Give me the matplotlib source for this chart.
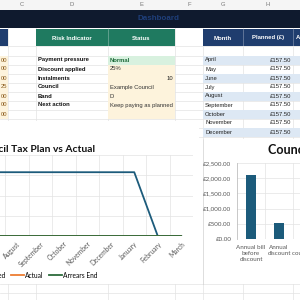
import matplotlib.pyplot as plt
from matplotlib.patches import Rectangle

# sheet data
col_letters = ["C", "D", "E", "F", "G", "H"]
col_letter_x = [22, 72, 141, 189, 223, 268]
col_b_values = ["00", "00", "00", "25", "00", "00", "00"]
risk_labels = ["Payment pressure", "Discount applied", "Instalments", "Council", "Band", "Next action"]
risk_status = ["Normal", "25%", "10", "Example Council", "D", "Keep paying as planned"]
table_months = ["April", "May", "June", "July", "August", "September", "October", "November", "December"]
table_planned = [157.50, 157.50, 157.50, 157.50, 157.50, 157.50, 157.50, 157.50, 157.50]

# line chart data
months = ["April", "May", "June", "July", "August", "September",
          "October", "November", "December", "January", "February", "March"]
planned = [157.5, 157.5, 157.5, 157.5, 157.5, 157.5, 157.5, 157.5, 157.5, 157.5, 0, 0]
actual = [0, 0, 0, 0, 0, 0, 0, 0, 0, 0, 0, 0]
arrears_end = [0, 0, 0, 0, 0, 0, 0, 0, 0, 0, 0, 0]

# bar chart data
bar_labels = ["Annual bill\nbefore\ndiscount", "Annual\ndiscount", "Net\ncouncil tax"]
bar_values = [2100, 525, 1575]

navy = "#0f1a2e"
hdr_blue = "#1f3d6e"
teal = "#1f7a60"
stripe = "#dde8f4"
cream = "#fdf3dc"
grid = "#e3e3e3"
chart_blue = "#1c5b7b"

SHEET_FONT = ["Liberation Sans", "DejaVu Sans"]
CHART_FONT = ["Lato", "DejaVu Sans"]

fig = plt.figure(figsize=(3, 3), dpi=100)
bg = fig.add_axes([0, 0, 1, 1])
bg.set_xlim(0, 300)
bg.set_ylim(300, 0)
bg.axis("off")


def rect(x0, y0, x1, y1, color, z=1):
    bg.add_patch(Rectangle((x0, y0), x1 - x0, y1 - y0, color=color, lw=0, zorder=z))


def px(x0, y0, x1, y1):
    return [x0 / 300, 1 - y1 / 300, (x1 - x0) / 300, (y1 - y0) / 300]


# sheet gridlines
col_edges = [8, 36, 108, 175, 203, 243, 293]
row_edges = [46, 55.5, 64.5, 73.5, 82.5, 91.5, 100.5, 109.5, 118.5, 127.5, 136.5, 284, 293]
for x in col_edges:
    bg.plot([x, x], [10, 300], color=grid, lw=0.5, zorder=0.5)
for y in row_edges:
    bg.plot([0, 300], [y, y], color=grid, lw=0.5, zorder=0.5)

# column letters row and title band
rect(0, 0, 300, 10, "#f5f5f5")
for lt, x in zip(col_letters, col_letter_x):
    bg.text(x, 5, lt, ha="center", va="center", fontsize=4.2, color="#777777", family=SHEET_FONT)
rect(0, 10, 300, 27.5, navy)
bg.text(158, 19, "Dashboard", ha="center", va="center", fontsize=5.8, color="#1f3f7a",
        family=SHEET_FONT, fontweight="bold")

# header row
rect(0, 29, 8, 46, hdr_blue)
rect(36, 29, 175, 46, teal)
rect(203, 29, 300, 46, hdr_blue)
for x in [108, 243, 293]:
    bg.plot([x, x], [29, 46], color="#ffffff", lw=0.4, alpha=0.5, zorder=2)
hdr_kw = dict(ha="center", va="center", fontsize=4.3, color="white", fontweight="bold", family=SHEET_FONT)
bg.text(72, 38, "Risk Indicator", **hdr_kw)
bg.text(141.5, 38, "Status", **hdr_kw)
bg.text(223, 38, "Month", **hdr_kw)
bg.text(268, 38, "Planned (£)", **hdr_kw)
bg.text(296, 38, "Actual (£)", ha="left", va="center", fontsize=4.3, color="white",
        fontweight="bold", family=SHEET_FONT, clip_on=True)

# column B values
for i, v in enumerate(col_b_values):
    y = 60 + 9 * i
    rect(0, y - 4.5, 8, y + 4.5, cream)
    bg.text(7, y, v, ha="right", va="center", fontsize=4.2, color="#8a5a1a", family=SHEET_FONT)

# risk indicator block
for i, (lab, st) in enumerate(zip(risk_labels, risk_status)):
    y = 60 + 9 * i
    rect(108, y - 4.5, 175, y + 4.5, "#d8f1df" if i == 0 else cream)
    bg.text(38, y, lab, ha="left", va="center", fontsize=4.2, fontweight="bold",
            color="#111111", family=SHEET_FONT)
    if st == "10":
        bg.text(173, y, st, ha="right", va="center", fontsize=4.2, color="#222222", family=SHEET_FONT)
    else:
        bg.text(110, y, st, ha="left", va="center", fontsize=4.2, zorder=3,
                color="#1e6b3a" if i == 0 else "#333333",
                fontweight="bold" if i == 0 else "normal", family=SHEET_FONT)
rect(108, 109.5, 175, 118.5, cream)

# months table
for i, (m, v) in enumerate(zip(table_months, table_planned)):
    y = 60 + 9 * i
    if i % 2 == 0:
        rect(203, y - 4.5, 300, y + 4.5, stripe)
    bg.text(205, y, m, ha="left", va="center", fontsize=4.2, color="#222222", family=SHEET_FONT)
    bg.text(291, y, f"£{v:,.2f}", ha="right", va="center", fontsize=4.2, color="#222222", family=SHEET_FONT)

# chart areas
rect(0, 121, 199, 284, "white", z=1.5)
rect(203, 139, 300, 284, "white", z=1.5)
bg.plot([203, 203], [139, 284], color="#d0d0d0", lw=0.5, zorder=2)

bg.text(95, 150, "Council Tax Plan vs Actual", ha="right", va="center", fontsize=7.4,
        fontweight="bold", color="#111111", family=CHART_FONT, zorder=3)
bg.text(268, 150, "Council Tax Summary", ha="left", va="center", fontsize=9,
        fontweight="bold", color="#111111", family=CHART_FONT, zorder=3)

# line chart
ax1 = fig.add_axes(px(-89, 155, 193, 236))
ax1.set_facecolor("none")
x = list(range(len(months)))
ax1.plot(x, planned, color=chart_blue, lw=1.3, label="Planned")
ax1.plot(x, actual, color="#ed7d31", lw=1.3, label="Actual")
ax1.plot(x, arrears_end, color="#2c6b3c", lw=1.3, label="Arrears End")
ax1.set_xlim(-0.5, len(months) - 0.5)
ax1.set_ylim(0, 200)
ax1.set_yticks([0, 50, 100, 150, 200])
ax1.set_xticks(x)
ax1.set_xticks([i - 0.5 for i in range(len(months) + 1)], minor=True)
ax1.set_xticklabels(months, rotation=45, ha="right", va="top", rotation_mode="anchor",
                    fontsize=4.8, color="#595959", family=CHART_FONT)
ax1.tick_params(length=0, which="both", pad=3)
ax1.grid(axis="y", color=grid, lw=0.5)
ax1.grid(axis="x", which="minor", color=grid, lw=0.5)
for s in ax1.spines.values():
    s.set_visible(False)
fig.legend(handles=ax1.get_lines(), loc="center right", bbox_to_anchor=(101 / 300, 1 - 275 / 300),
           ncol=3, frameon=False, handlelength=2.0, columnspacing=0.75, handletextpad=0.15,
           borderpad=0, prop={"family": CHART_FONT, "size": 4.8})

# bar chart
ax2 = fig.add_axes(px(237, 163, 321, 239))
ax2.set_facecolor("none")
bx = list(range(len(bar_labels)))
ax2.bar(bx, bar_values, width=0.36, color=chart_blue, zorder=3)
ax2.set_xlim(-0.5, len(bar_labels) - 0.5)
ax2.set_ylim(0, 2500)
ax2.set_yticks([0, 500, 1000, 1500, 2000, 2500])
ax2.set_yticklabels([f"£{v:,.2f}" for v in [0, 500, 1000, 1500, 2000, 2500]],
                    fontsize=4.5, color="#595959", family=CHART_FONT)
ax2.set_xticks(bx)
ax2.set_xticklabels(bar_labels, fontsize=4.5, color="#595959", family=CHART_FONT, linespacing=1.3)
ax2.set_xticks([i + 0.5 for i in bx], minor=True)
ax2.tick_params(length=0, which="both", pad=4)
ax2.grid(axis="y", color=grid, lw=0.5)
ax2.grid(axis="x", which="minor", color=grid, lw=0.5)
for s in ["top", "right", "bottom"]:
    ax2.spines[s].set_visible(False)
ax2.spines["left"].set_color("#bfbfbf")
ax2.spines["left"].set_linewidth(0.6)

fig.savefig("out.png", dpi=100)
